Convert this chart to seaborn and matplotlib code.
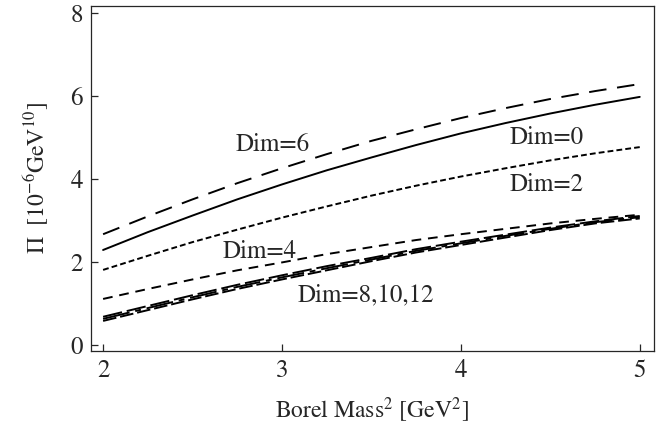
import numpy as np
import pandas as pd
import seaborn as sns
import matplotlib
matplotlib.use('Agg')
import matplotlib.pyplot as plt

# Borel mass^2 grid and curve values
m2 = [2.0, 2.25, 2.5, 2.75, 3.0, 3.25, 3.5, 3.75, 4.0, 4.25, 4.5, 4.75, 5.0]
dim0 = [2.29, 2.72, 3.12, 3.51, 3.87, 4.21, 4.52, 4.82, 5.10, 5.35, 5.58, 5.79, 5.98]
dim2 = [1.81, 2.15, 2.48, 2.78, 3.07, 3.34, 3.60, 3.84, 4.06, 4.26, 4.45, 4.62, 4.77]
dim4 = [1.11, 1.35, 1.58, 1.80, 1.99, 2.19, 2.36, 2.53, 2.67, 2.80, 2.93, 3.04, 3.14]
dim6 = [2.67, 3.10, 3.51, 3.90, 4.26, 4.60, 4.92, 5.20, 5.47, 5.71, 5.93, 6.12, 6.29]
dim8 = [0.68, 0.94, 1.20, 1.45, 1.68, 1.90, 2.10, 2.31, 2.49, 2.66, 2.83, 2.98, 3.11]
dim10 = [0.63, 0.89, 1.15, 1.40, 1.63, 1.85, 2.06, 2.27, 2.45, 2.63, 2.80, 2.96, 3.08]
dim12 = [0.58, 0.84, 1.10, 1.35, 1.58, 1.80, 2.02, 2.23, 2.41, 2.59, 2.77, 2.93, 3.05]

series = {'Dim=0': dim0, 'Dim=2': dim2, 'Dim=4': dim4, 'Dim=6': dim6,
          'Dim=8': dim8, 'Dim=10': dim10, 'Dim=12': dim12}
df = pd.concat([pd.DataFrame({'m2': m2, 'pi': v, 'dim': k}) for k, v in series.items()],
               ignore_index=True)

sns.set_style('ticks')
plt.rcParams['font.family'] = ['STIXGeneral', 'DejaVu Serif']
plt.rcParams['mathtext.fontset'] = 'stix'

fig = plt.figure(figsize=(6.65, 4.32), dpi=100)
ax = fig.add_axes([0.137, 0.1875, 0.846, 0.7985])

dashes = {'Dim=0': '', 'Dim=2': (3, 1.6), 'Dim=4': (5, 3.5),
          'Dim=6': (9, 5.5), 'Dim=8': (10, 2.5), 'Dim=10': (14, 3, 3, 3),
          'Dim=12': (7, 2)}
palette = {k: 'black' for k in series}
sns.lineplot(data=df, x='m2', y='pi', hue='dim', style='dim', dashes=dashes,
             palette=palette, linewidth=1.4, legend=False, ax=ax)

ax.set_xlim(1.933, 5.078)
ax.set_ylim(-0.145, 8.17)
ax.set_xticks([2, 3, 4, 5])
ax.set_yticks([0, 2, 4, 6, 8])
ax.tick_params(direction='in', length=5, width=0.9, labelsize=18, pad=6)
for s in ax.spines.values():
    s.set_linewidth(0.9)

ax.set_xlabel('Borel Mass$^2$ [GeV$^2$]', fontsize=17, labelpad=9)
ax.set_ylabel('\u03a0  [10$^{-6}$GeV$^{10}$]', fontsize=17, labelpad=14)

labels = [('Dim=6', 2.74, 4.82), ('Dim=0', 4.27, 5.0), ('Dim=2', 4.27, 3.86),
          ('Dim=4', 2.67, 2.24), ('Dim=8,10,12', 3.09, 1.2)]
for txt, x, y in labels:
    ax.text(x, y, txt, fontsize=18, va='center', ha='left')

fig.savefig('out.png', dpi=100)
